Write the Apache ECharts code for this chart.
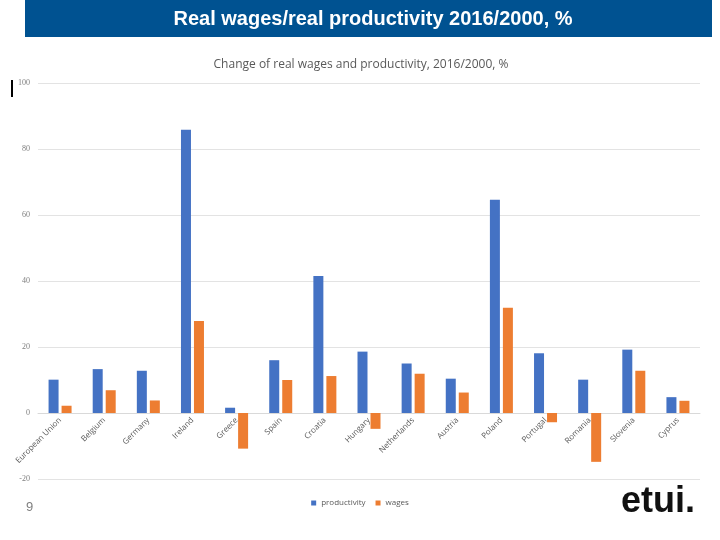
<!DOCTYPE html>
<html>
<head>
<meta charset="utf-8">
<script src="https://cdn.jsdelivr.net/npm/echarts@6/dist/echarts.min.js"></script>
<style>html,body{margin:0;padding:0;background:#fff}#c{width:720px;height:540px}</style>
</head>
<body>
<div id="c"></div>
<script>
const categories = ['European Union','Belgium','Germany','Ireland','Greece','Spain','Croatia','Hungary','Netherlands','Austria','Poland','Portugal','Romania','Slovenia','Cyprus'];
const productivity = [10.1, 13.3, 12.8, 85.8, 1.6, 16.0, 41.5, 18.6, 15.0, 10.4, 64.6, 18.1, 10.1, 19.2, 4.8];
const wages = [2.2, 6.9, 3.8, 27.9, -10.8, 10.0, 11.2, -4.8, 11.9, 6.2, 31.9, -2.8, -14.8, 12.8, 3.7];
const yTicks = {min: -20, max: 100, interval: 20};

const chart = echarts.init(document.getElementById('c'));
chart.setOption({
  animation: false,
  backgroundColor: '#ffffff',
  title: [{
    text: 'Real wages/real productivity 2016/2000, %',
    left: 368, top: 4, textAlign: 'center',
    textStyle: {color: '#ffffff', fontFamily: 'Liberation Sans', fontSize: 20, fontWeight: 'bold'}
  }, {
    text: 'Change of real wages and productivity, 2016/2000, %',
    left: 356, top: 54, textAlign: 'center',
    textStyle: {color: '#595959', fontFamily: 'Open Sans', fontSize: 12, fontWeight: 'normal'}
  }],
  graphic: [
    {type: 'rect', z: -1, shape: {x: 25, y: 0, width: 687, height: 37}, style: {fill: '#005291'}},
    {type: 'rect', shape: {x: 11, y: 80, width: 2, height: 17}, style: {fill: '#000000'}},
    {type: 'text', left: 26, top: 501, style: {text: '9', fill: '#7f7f7f', font: '13px "Liberation Sans"'}},
    {type: 'text', left: 621, top: 484, style: {text: 'etui.', fill: '#111111', font: 'bold 36px "Liberation Sans"'}}
  ],
  legend: {
    data: ['productivity', 'wages'],
    left: 'center', top: 494,
    itemWidth: 5, itemHeight: 5, itemGap: 10,
    icon: 'rect',
    textStyle: {color: '#595959', fontFamily: 'Open Sans', fontSize: 8}
  },
  grid: {left: 38, right: 20, top: 83, bottom: 61, containLabel: false},
  xAxis: {
    type: 'category',
    data: categories,
    offset: -66,
    axisLine: {onZero: false, lineStyle: {color: '#d9d9d9', width: 1}},
    axisTick: {show: false},
    axisLabel: {rotate: 45, color: '#595959', fontFamily: 'Open Sans', fontSize: 8, margin: 6, interval: 0}
  },
  yAxis: {
    type: 'value',
    min: yTicks.min, max: yTicks.max, interval: yTicks.interval,
    axisLine: {show: false},
    axisTick: {show: false},
    splitLine: {lineStyle: {color: '#e3e3e3', width: 1}},
    axisLabel: {color: '#7f7f7f', fontFamily: 'Liberation Serif', fontSize: 8, margin: 8}
  },
  series: [
    {name: 'productivity', type: 'bar', data: productivity, barWidth: 10, barGap: '30%', itemStyle: {color: '#4472C4'}},
    {name: 'wages', type: 'bar', data: wages, barWidth: 10, itemStyle: {color: '#ED7D31'}}
  ]
});
</script>
</body>
</html>
